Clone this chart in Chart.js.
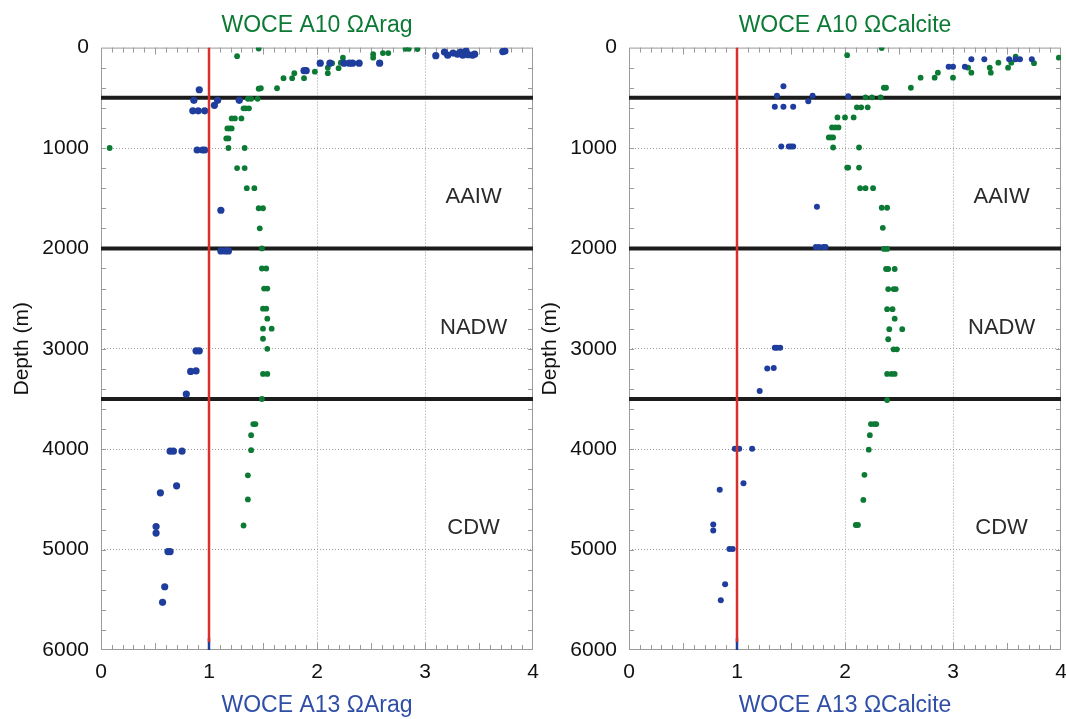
<!DOCTYPE html>
<html>
<head>
<meta charset="utf-8">
<title>WOCE A10 / A13 saturation profiles</title>
<script src="https://cdn.jsdelivr.net/npm/chart.js@4"></script>
<style>
  body { margin: 0; background: #fff; }
  #wrap { position: relative; width: 1066px; height: 719px; }
  .panel { position: absolute; top: 0; height: 719px; }
  #leftPanel { left: 0; width: 540px; }
  #rightPanel { left: 528px; width: 538px; }
</style>
</head>
<body>
<div id="wrap">
  <div class="panel" id="leftPanel"><canvas id="aragChart"></canvas></div>
  <div class="panel" id="rightPanel"><canvas id="calciteChart"></canvas></div>
</div>
<script>
// Axis ticks
const omegaTicks = [0, 1, 2, 3, 4];
const depthTicks = [0, 1000, 2000, 3000, 4000, 5000, 6000];

// Water mass boundaries (m) and labels
const boundaryDepths = [500, 2000, 3500];
const waterMasses = ['AAIW', 'NADW', 'CDW'];
const waterMassDepths = [1490, 2790, 4780];
const saturationOmega = 1;

// WOCE A10, aragonite saturation
const a10AragOmega = [1.46, 1.26, 2.82, 2.85, 2.93, 2.52, 2.52, 2.61, 2.66, 2.24, 2.22, 2.20, 2.14, 2.10, 2.10, 1.98,
  1.88, 1.79, 1.77, 1.69, 1.63, 1.48, 1.46, 1.45, 1.39, 1.36, 1.37, 1.34, 1.32, 1.30, 1.24, 1.21, 1.21, 1.19, 1.17,
  1.18, 1.16, 1.18, 1.33, 0.08, 1.26, 1.33, 1.35, 1.42, 1.46, 1.50, 1.47, 1.49, 1.49, 1.53, 1.51, 1.54, 1.50, 1.53,
  1.54, 1.50, 1.58, 1.50, 1.54, 1.50, 1.54, 1.49, 1.41, 1.43, 1.39, 1.39, 1.36, 1.36, 1.32];
const a10AragDepth = [10, 85, 12, 12, 15, 65, 100, 55, 55, 100, 150, 205, 155, 200, 255, 240,
  305, 255, 305, 305, 405, 405, 410, 510, 510, 510, 605, 605, 605, 705, 705, 705, 805, 805, 805,
  905, 905, 1000, 1000, 1000, 1200, 1200, 1400, 1400, 1600, 1600, 1800, 2000, 2200, 2200, 2400, 2400, 2600, 2600,
  2700, 2800, 2800, 2900, 3000, 3250, 3250, 3500, 3750, 3750, 3860, 4010, 4260, 4500, 4760];

// WOCE A13, aragonite saturation
const a13AragOmega = [3.10, 3.18, 3.21, 3.26, 3.30, 3.33, 3.35, 3.38, 3.40, 3.44, 3.46, 3.72, 3.74,
  2.58, 2.39, 2.33, 2.30, 2.25, 2.12, 2.03, 1.90, 1.88, 0.91, 0.86, 1.08, 1.05, 1.28, 0.85, 0.90, 0.96,
  0.89, 0.94, 0.96, 1.11, 1.11, 1.15, 1.18, 0.88, 0.91, 0.83, 0.88, 0.79,
  0.64, 0.67, 0.75, 0.70, 0.55, 0.51, 0.51, 0.62, 0.64, 0.59, 0.57];
const a13AragDepth = [80, 45, 75, 55, 65, 45, 75, 35, 70, 75, 65, 40, 35,
  155, 155, 155, 155, 155, 155, 155, 230, 230, 420, 525, 525, 575, 525, 630, 630, 630,
  1020, 1020, 1020, 1620, 2025, 2025, 2025, 3020, 3020, 3225, 3220, 3450,
  4020, 4020, 4020, 4365, 4435, 4770, 4835, 5020, 5020, 5370, 5525];

// WOCE A10, calcite saturation
const a10CalOmega = [2.34, 2.02, 3.98, 3.75, 3.58, 3.54, 3.51, 3.42, 3.34, 3.35, 3.14, 3.17, 3.00, 2.86, 2.83, 2.70,
  2.61, 2.36, 2.38, 2.33, 2.25, 2.19, 2.21, 2.15, 2.11, 2.08, 2.00, 1.93, 1.94, 1.91, 1.88, 1.89, 1.87, 1.85,
  1.89, 2.13, 2.02, 2.03, 2.13, 2.14, 2.19, 2.26, 2.34, 2.39, 2.35,
  2.36, 2.39, 2.38, 2.40, 2.46, 2.40, 2.45, 2.47, 2.39, 2.44, 2.46, 2.41, 2.53, 2.40, 2.45, 2.48, 2.39, 2.43, 2.46, 2.39,
  2.24, 2.27, 2.29, 2.23, 2.22, 2.18, 2.17, 2.10, 2.12];
const a10CalDepth = [5, 75, 100, 155, 90, 150, 200, 150, 200, 250, 200, 250, 300, 250, 300, 300,
  400, 400, 400, 495, 495, 495, 595, 595, 595, 695, 695, 695, 795, 795, 795, 895, 895, 895,
  995, 995, 1195, 1195, 1195, 1400, 1400, 1400, 1595, 1595, 1795,
  2005, 2005, 2205, 2205, 2205, 2405, 2405, 2405, 2605, 2605, 2700, 2805, 2805, 2905, 3005, 3005, 3250, 3250, 3250, 3510,
  3750, 3750, 3750, 3860, 4005, 4255, 4505, 4755, 4755];

// WOCE A13, calcite saturation
const a13CalOmega = [3.17, 3.29, 3.52, 3.58, 3.62, 3.73, 2.96, 3.00, 3.11,
  1.43, 1.37, 1.70, 2.03, 1.66, 1.35, 1.43, 1.52, 1.41, 1.48, 1.50, 1.52, 1.74,
  1.73, 1.76, 1.80, 1.82, 1.35, 1.37, 1.40, 1.28, 1.34, 1.21,
  0.98, 1.00, 1.02, 1.14, 1.06, 0.84, 0.78, 0.78, 0.93, 0.96, 0.89, 0.85];
const a13CalDepth = [115, 115, 115, 115, 115, 115, 190, 190, 190,
  385, 480, 480, 485, 535, 590, 590, 590, 985, 985, 985, 985, 1585,
  1985, 1985, 1985, 1985, 2990, 2990, 2990, 3195, 3190, 3420,
  3995, 3995, 3995, 3995, 4340, 4405, 4750, 4810, 4995, 4995, 5345, 5505];

const GREEN = '#0c7a34';
const BLUE = '#1f3d9c';
const RED = '#d8302b';

Chart.defaults.font.family = '"Liberation Sans", Arial, sans-serif';
Chart.defaults.color = '#111';

const toPoints = (xs, ys) => xs.map((x, i) => ({ x, y: ys[i] }));

// frame, inward minor ticks and water-mass labels
const panelDecor = {
  id: 'panelDecor',
  beforeDatasetsDraw(chart) {
    const { ctx, chartArea: a, scales: { x, y } } = chart;
    ctx.save();
    ctx.strokeStyle = '#9a9a9a';
    ctx.lineWidth = 1;
    ctx.strokeRect(a.left + 0.5, a.top + 0.5, a.right - a.left - 1, a.bottom - a.top - 1);
    ctx.beginPath();
    for (let i = 1; i < 40; i++) {
      const px = Math.round(x.getPixelForValue(i / 10)) + 0.5;
      const len = i % 5 === 0 ? 7 : 5;
      ctx.moveTo(px, a.top); ctx.lineTo(px, a.top + len);
      ctx.moveTo(px, a.bottom); ctx.lineTo(px, a.bottom - len);
    }
    for (let d = 200; d < 6000; d += 200) {
      const py = Math.round(y.getPixelForValue(d)) + 0.5;
      ctx.moveTo(a.left, py); ctx.lineTo(a.left + 5, py);
      ctx.moveTo(a.right, py); ctx.lineTo(a.right - 5, py);
    }
    ctx.stroke();
    ctx.fillStyle = '#2a2a2a';
    ctx.font = '22px "Liberation Sans", Arial, sans-serif';
    ctx.textAlign = 'center';
    ctx.textBaseline = 'middle';
    waterMasses.forEach((name, i) => {
      ctx.fillText(name, x.getPixelForValue(3.45), y.getPixelForValue(waterMassDepths[i]));
    });
    ctx.restore();
  }
};

function makePanel(canvasId, a10, a13, mineral, rightPad) {
  const lines = boundaryDepths.map(d => ({
    type: 'line',
    data: [{ x: 0, y: d }, { x: 4, y: d }],
    borderColor: '#1c1c1c',
    borderWidth: 4,
    pointRadius: 0,
    order: 3
  }));
  return new Chart(document.getElementById(canvasId), {
    type: 'scatter',
    data: {
      datasets: [
        ...lines,
        {
          label: 'WOCE A10',
          data: a10,
          backgroundColor: GREEN,
          pointRadius: 2.9,
          pointBorderWidth: 0,
          order: 2
        },
        {
          label: 'WOCE A13',
          data: a13,
          backgroundColor: BLUE,
          pointRadius: mineral === 'Arag' ? 3.6 : 3.0,
          pointBorderWidth: 0,
          order: 1
        },
        {
          type: 'line',
          data: [{ x: saturationOmega, y: 5880 }, { x: saturationOmega, y: 6000 }],
          borderColor: BLUE,
          borderWidth: 2.5,
          pointRadius: 0,
          order: 0.5
        },
        {
          type: 'line',
          data: [{ x: saturationOmega, y: 0 }, { x: saturationOmega, y: 5920 }],
          borderColor: RED,
          borderWidth: 2.5,
          pointRadius: 0,
          order: 0
        }
      ]
    },
    options: {
      responsive: true,
      maintainAspectRatio: false,
      animation: false,
      layout: { padding: { left: 0, right: rightPad, top: 0, bottom: 0 } },
      plugins: {
        legend: { display: false },
        tooltip: { enabled: false },
        title: {
          display: true,
          fullSize: false,
          text: 'WOCE A10 Ω' + mineral,
          color: GREEN,
          font: { size: 23, weight: 'normal' },
          padding: { top: 12, bottom: 8 }
        }
      },
      scales: {
        x: {
          type: 'linear',
          min: 0,
          max: 4,
          afterBuildTicks: s => { s.ticks = omegaTicks.map(v => ({ value: v })); },
          afterFit: s => { s.height = 69; s.paddingLeft = 0; s.paddingRight = 0; },
          ticks: { font: { size: 21 }, color: '#111', padding: 10, callback: v => String(v) },
          grid: {
            drawTicks: false,
            color: c => (c.tick && (c.tick.value === 0 || c.tick.value === 4)) ? 'rgba(0,0,0,0)' : '#9c9c9c'
          },
          border: { display: false, dash: [1, 2] },
          title: {
            display: true,
            text: 'WOCE A13 Ω' + mineral,
            color: '#2f4ea6',
            font: { size: 23 },
            padding: { top: 6, bottom: 0 }
          }
        },
        y: {
          type: 'linear',
          reverse: true,
          min: 0,
          max: 6000,
          afterBuildTicks: s => { s.ticks = depthTicks.map(v => ({ value: v })); },
          afterFit: s => { s.width = 101; s.paddingTop = 0; s.paddingBottom = 0; },
          ticks: { font: { size: 21 }, color: '#111', padding: 12, callback: v => String(v) },
          grid: {
            drawTicks: false,
            color: c => (c.tick && (c.tick.value === 0 || c.tick.value === 6000)) ? 'rgba(0,0,0,0)' : '#9c9c9c'
          },
          border: { display: false, dash: [1, 2] },
          title: {
            display: true,
            text: 'Depth (m)',
            color: '#111',
            font: { size: 21 },
            padding: { top: 10, bottom: 0 }
          }
        }
      }
    },
    plugins: [panelDecor]
  });
}

makePanel('aragChart', toPoints(a10AragOmega, a10AragDepth), toPoints(a13AragOmega, a13AragDepth), 'Arag', 7);
makePanel('calciteChart', toPoints(a10CalOmega, a10CalDepth), toPoints(a13CalOmega, a13CalDepth), 'Calcite', 5);
</script>
</body>
</html>
